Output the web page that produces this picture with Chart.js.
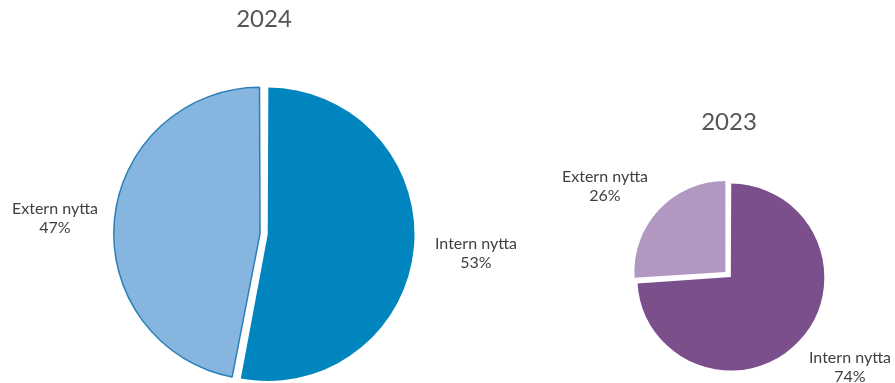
<!DOCTYPE html>
<html>
<head>
<meta charset="utf-8">
<script src="https://cdn.jsdelivr.net/npm/chart.js@4/dist/chart.umd.min.js"></script>
<style>
  html, body { margin: 0; padding: 0; background: #fff; overflow: hidden; }
  #wrap { position: relative; width: 895px; height: 383px; overflow: hidden; }
  .box { position: absolute; top: 0; }
</style>
</head>
<body>
<div id="wrap">
  <div class="box" style="left:0;width:540px;height:470px"><canvas id="pie2024"></canvas></div>
  <div class="box" style="left:540px;width:355px;height:470px"><canvas id="pie2023"></canvas></div>
</div>
<script>
const categories = ['Intern nytta', 'Extern nytta'];
const values2024 = [53, 47];
const values2023 = [74, 26];

const FONT = "Lato, 'Open Sans', sans-serif";

// draws "name / xx%" next to each slice, offset from the pie centre
const sliceLabels = {
    id: 'sliceLabels',
    afterDatasetsDraw(chart, args, opts) {
        const ctx = chart.ctx;
        const meta = chart.getDatasetMeta(0);
        const data = chart.data.datasets[0].data;
        const total = data.reduce((a, b) => a + b, 0);
        ctx.save();
        ctx.fillStyle = '#404040';
        ctx.font = opts.size + 'px ' + FONT;
        ctx.textAlign = 'center';
        ctx.textBaseline = 'middle';
        meta.data.forEach((arc, i) => {
            const p = opts.offsets[i];
            const x = arc.x + p[0];
            const y = arc.y + p[1];
            ctx.fillText(chart.data.labels[i], x, y - opts.lineGap / 2);
            ctx.fillText(Math.round(data[i] / total * 100) + '%', x, y + opts.lineGap / 2);
        });
        ctx.restore();
    }
};

function makePie(id, title, values, colors, borders, widths, offset, radius, padding, offsets) {
    return new Chart(document.getElementById(id), {
        type: 'pie',
        data: {
            labels: categories,
            datasets: [{
                data: values,
                backgroundColor: colors,
                borderColor: borders,
                borderWidth: widths,
                offset: offset
            }]
        },
        options: {
            responsive: true,
            maintainAspectRatio: false,
            animation: false,
            radius: radius,
            layout: { padding: padding },
            plugins: {
                legend: { display: false },
                tooltip: { enabled: false },
                title: {
                    display: true,
                    text: title,
                    color: '#555555',
                    font: { family: FONT, size: 24, weight: 'normal', lineHeight: 1.2 },
                    padding: { top: 0, bottom: 6 }
                },
                sliceLabels: { size: 16, lineGap: 19, offsets: offsets }
            }
        },
        plugins: [sliceLabels]
    });
}

// chart.js moves an arc by offset/4 (more for slices under 180deg), so these are larger than the gap
makePie('pie2024', '2024', values2024,
    ['#0085bf', '#86b5e0'], ['#0085bf', '#2a80b6'], [0, 1.5], [15, 16], 143,
    { top: 5, left: 0, right: 12, bottom: 42 },
    [[212, 19], [-209, -16]]);

makePie('pie2023', '2023', values2023,
    ['#7b4e8c', '#b198c0'], ['#ffffff', '#ffffff'], [0, 0], [10, 20], 91,
    { top: 108, left: 23, right: 0, bottom: 62 },
    [[121, 92], [-124, -89]]);
</script>
</body>
</html>
